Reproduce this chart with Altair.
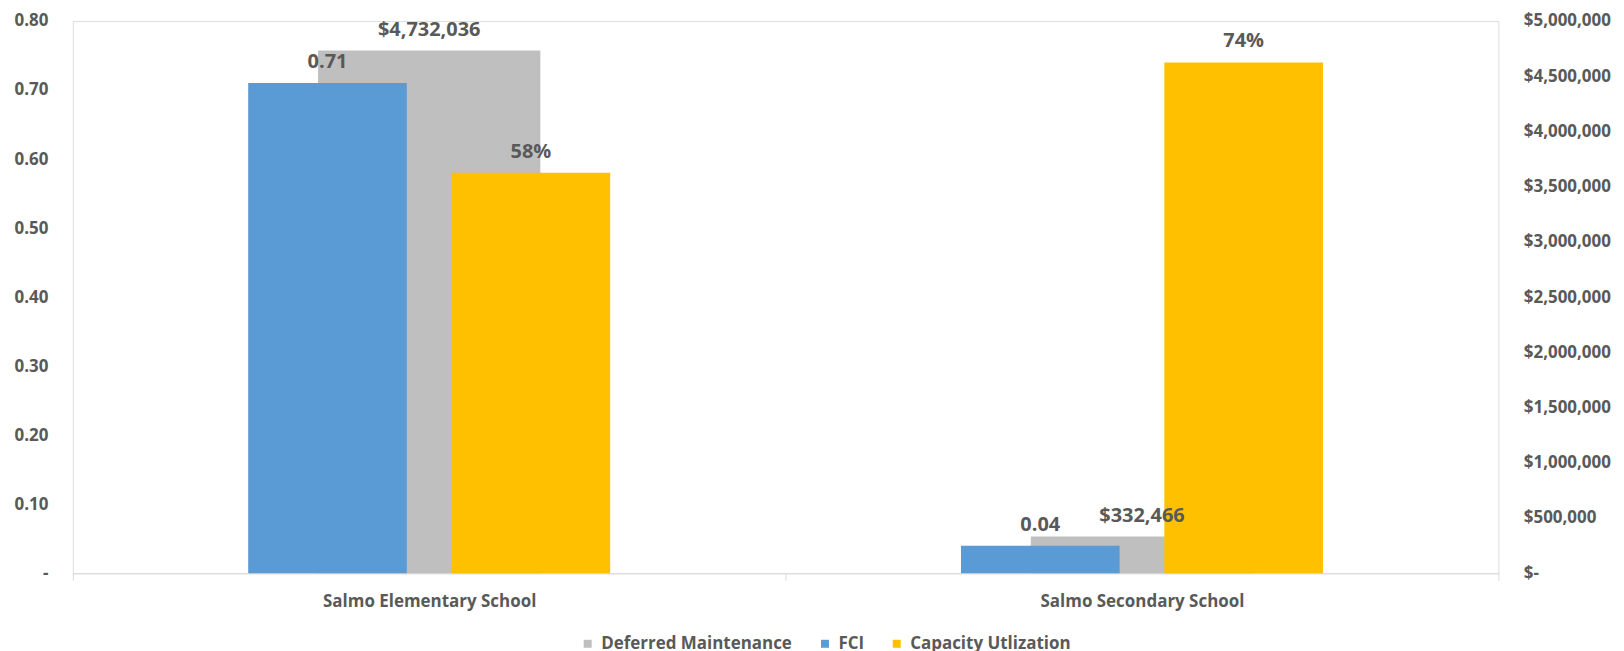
import altair as alt
import pandas as pd

schools = ["Salmo Elementary School", "Salmo Secondary School"]
deferred = [4732036, 332466]
fci = [0.71, 0.04]
capacity = [0.58, 0.74]
series_names = ["Deferred Maintenance", "FCI", "Capacity Utlization"]
colors = ["#BFBFBF", "#5B9BD5", "#FFC000"]
left_ticks = [0, 0.1, 0.2, 0.3, 0.4, 0.5, 0.6, 0.7, 0.8]
right_ticks = [0, 500000, 1000000, 1500000, 2000000, 2500000, 3000000,
               3500000, 4000000, 4500000, 5000000]

FONT = "Open Sans"
TXT = "#595959"

dm_df = pd.DataFrame({"School": schools, "Value": deferred,
                      "Series": [series_names[0]] * len(schools)})
ratio_df = pd.DataFrame({
    "School": schools + schools,
    "Value": fci + capacity,
    "Series": [series_names[1]] * len(schools) + [series_names[2]] * len(schools),
})

x_enc = alt.X(
    "School:N", sort=schools,
    scale=alt.Scale(paddingInner=0, paddingOuter=0),
    axis=alt.Axis(title=None, labelAngle=0, domainColor="#D9D9D9", tickColor="#D9D9D9",
                  tickBand="extent", tickSize=7, labelFontSize=17, labelFont=FONT,
                  labelFontWeight="bold", labelColor=TXT, labelPadding=13, grid=False,
                  labelLimit=0),
)
color_enc = alt.Color(
    "Series:N",
    scale=alt.Scale(domain=series_names, range=colors),
    legend=alt.Legend(title=None, orient="none", direction="horizontal",
                      legendX=508, legendY=616,
                      symbolType="square", symbolSize=64, symbolStrokeWidth=0,
                      labelFontSize=17, labelFont=FONT, labelFontWeight="bold",
                      labelColor=TXT, columnPadding=24, labelOffset=5, labelLimit=0),
)
xoff_enc = alt.XOffset(
    "Series:N", sort=series_names[1:],
    scale=alt.Scale(domain=series_names[1:], paddingInner=0.22, paddingOuter=0.8625),
)

dm_scale = alt.Scale(domain=[0, 5000000], nice=False)
ratio_scale = alt.Scale(domain=[0, 0.8], nice=False)

gray_bar = alt.Chart(dm_df).mark_bar(size=223).encode(
    x=x_enc,
    y=alt.Y("Value:Q", scale=dm_scale,
            axis=alt.Axis(orient="right", values=right_ticks, title=None, grid=False,
                          domain=False, ticks=False, labelPadding=25, labelFontSize=17,
                          labelFont=FONT, labelFontWeight="bold", labelColor=TXT,
                          labelLimit=0,
                          labelExpr="datum.value == 0 ? '$-' : format(datum.value, '$,.0f')")),
    color=color_enc,
)

ratio_bar = alt.Chart(ratio_df).mark_bar().encode(
    x=x_enc,
    xOffset=xoff_enc,
    y=alt.Y("Value:Q", scale=ratio_scale,
            axis=alt.Axis(orient="left", values=left_ticks, title=None, grid=False,
                          domain=False, ticks=False, labelPadding=25, labelFontSize=17,
                          labelFont=FONT, labelFontWeight="bold", labelColor=TXT,
                          labelLimit=0,
                          labelExpr="datum.value == 0 ? '-' : format(datum.value, '.2f')")),
    color=color_enc,
)

gray_text = alt.Chart(dm_df).mark_text(
    dy=-21, fontSize=20, fontWeight="bold", font=FONT, color=TXT
).encode(
    x=x_enc,
    y=alt.Y("Value:Q", scale=dm_scale, axis=None),
    text=alt.Text("Value:Q", format="$,.0f"),
)

ratio_text = alt.Chart(ratio_df).transform_calculate(
    label=f"datum.Series == '{series_names[1]}' ? format(datum.Value, '.2f') : format(datum.Value, '.0%')"
).mark_text(
    dy=-21, fontSize=20, fontWeight="bold", font=FONT, color=TXT
).encode(
    x=x_enc,
    xOffset=xoff_enc,
    y=alt.Y("Value:Q", scale=ratio_scale, axis=None),
    text="label:N",
)

chart = alt.layer(gray_bar, ratio_bar, gray_text, ratio_text).resolve_scale(
    y="independent"
).properties(
    width=1430, height=554,
    padding={"left": 5, "top": 3, "right": 5, "bottom": 0},
).configure_view(stroke=None).configure(font=FONT)

chart.save("out.html", embed_options={"renderer": "svg", "actions": False})
